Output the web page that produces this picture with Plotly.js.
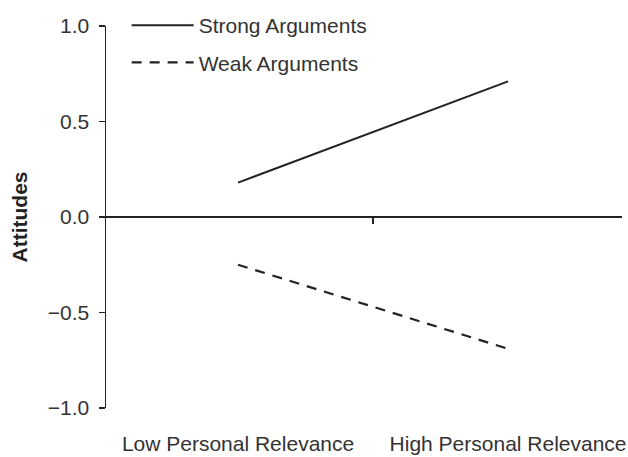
<!DOCTYPE html>
<html>
<head>
<meta charset="utf-8">
<script src="https://cdn.plot.ly/plotly-3.0.1.min.js"></script>
<style>html,body{margin:0;padding:0;background:#fff;}#chart{width:628px;height:457px;}</style>
</head>
<body>
<div id="chart"></div>
<script>
const categories = ["Low Personal Relevance", "High Personal Relevance"];
const categoryPos = [0, 1];
const strongArgs = [0.18, 0.71];
const weakArgs = [-0.25, -0.69];
const yTickVals = [-1.0, -0.5, 0.0, 0.5, 1.0];
const seriesNames = ["Strong Arguments", "Weak Arguments"];

const font = "Liberation Sans, Arial, sans-serif";
const ink = "#222";
const textCol = "#333";

const traces = [
  {x: categoryPos, y: strongArgs, name: seriesNames[0], mode: "lines", legendgroup: "a",
   line: {color: ink, width: 2}, xaxis: "x", yaxis: "y", hoverinfo: "skip"},
  {x: categoryPos, y: weakArgs, name: seriesNames[1], mode: "lines", legendgroup: "b",
   line: {color: ink, width: 2.2, dash: "10px,8px"}, xaxis: "x", yaxis: "y", hoverinfo: "skip"}
];

const layout = {
  width: 628, height: 457,
  margin: {l: 106, r: 6, t: 26, b: 49, autoexpand: false},
  paper_bgcolor: "#fff", plot_bgcolor: "#fff",
  font: {family: font, size: 21, color: textCol},
  showlegend: true,
  legend: {x: 0.04, y: 1.055, xanchor: "left", yanchor: "top", traceorder: "grouped",
    tracegroupgap: 7, itemwidth: 62, font: {size: 21, color: textCol}, bgcolor: "rgba(0,0,0,0)"},
  xaxis: {range: [-0.489, 1.422], tickvals: categoryPos, ticktext: categories,
    showline: false, showgrid: false, zeroline: false, ticks: "", ticklabelstandoff: 21,
    tickfont: {size: 21, color: textCol}, fixedrange: true},
  xaxis2: {overlaying: "x", matches: "x", anchor: "free", position: 0.5, side: "bottom",
    tickvals: [0.5], showticklabels: false, ticks: "outside", ticklen: 6, tickwidth: 1.5,
    tickcolor: ink, showline: false, showgrid: false, zeroline: false},
  yaxis: {range: [-1, 1], tickvals: yTickVals, tickformat: ".1f", showline: true,
    linecolor: ink, linewidth: 1.5, ticks: "outside", ticklen: 6, tickwidth: 1.5, tickcolor: ink,
    showgrid: false, zeroline: true, zerolinecolor: ink, zerolinewidth: 1.5,
    ticklabelstandoff: 5,
    tickfont: {size: 21, color: textCol},
    title: {text: "<b>Attitudes</b>", font: {size: 21, color: ink}, standoff: 14}, fixedrange: true}
};

// invisible helper trace that activates xaxis2 for the midpoint tick on the zero line
traces.push({x: [0.5], y: [0], xaxis: "x2", yaxis: "y", mode: "markers",
  marker: {opacity: 0}, showlegend: false, hoverinfo: "skip"});

Plotly.newPlot("chart", traces, layout, {displayModeBar: false, staticPlot: true});
</script>
</body>
</html>
